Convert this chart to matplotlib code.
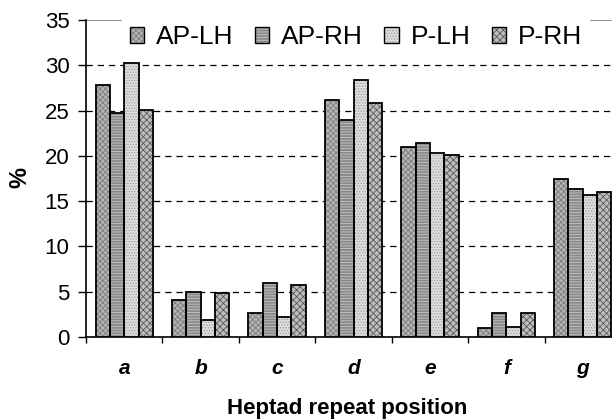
import matplotlib
matplotlib.use("Agg")
import matplotlib.pyplot as plt
import matplotlib.patches as mpatches
import numpy as np
from matplotlib.legend_handler import HandlerTuple

plt.rcParams['font.family'] = ['Liberation Sans', 'DejaVu Sans']
plt.rcParams['hatch.linewidth'] = 0.6

categories = ['a', 'b', 'c', 'd', 'e', 'f', 'g']
series_names = ['AP-LH', 'AP-RH', 'P-LH', 'P-RH']
ap_lh = [27.8, 4.1, 2.7, 26.2, 21.0, 0.95, 17.4]
ap_rh = [24.7, 5.0, 6.0, 24.0, 21.4, 2.65, 16.3]
p_lh = [30.2, 1.9, 2.2, 28.4, 20.3, 1.1, 15.7]
p_rh = [25.1, 4.9, 5.7, 25.8, 20.1, 2.65, 16.0]
values = [ap_lh, ap_rh, p_lh, p_rh]
y_ticks = [0, 5, 10, 15, 20, 25, 30, 35]

faces = ['#b4b4b4', '#8a8a8a', '#dedede', '#bdbdbd']
hatch_colors = ['#7c7c7c', '#c6c6c6', '#9a9a9a', '#5a5a5a']
hatches = ['xxxxxx', '------', '......', 'xxxxx']

fig = plt.figure(figsize=(6.12, 4.19), dpi=100)
ax = fig.add_axes([86/612, 82/419, 535/612, 317/419])

x = np.arange(len(categories))
width = 0.75 / 4
handles = []
for i, vals in enumerate(values):
    pos = x - 0.375 + width * (i + 0.5)
    ax.bar(pos, vals, width, facecolor=faces[i], edgecolor='none', zorder=3)
    ax.bar(pos, vals, width, facecolor='none', edgecolor=hatch_colors[i],
           hatch=hatches[i], linewidth=0, zorder=3.1)
    ax.bar(pos, vals, width, facecolor='none', edgecolor='black',
           linewidth=1.3, zorder=3.2)
    h1 = mpatches.Patch(facecolor=faces[i], edgecolor='none')
    h2 = mpatches.Patch(facecolor='none', edgecolor=hatch_colors[i], hatch=hatches[i], linewidth=0)
    h3 = mpatches.Patch(facecolor='none', edgecolor='black', linewidth=1.0)
    handles.append((h1, h2, h3))

ax.set_xlim(-0.5, len(categories) - 0.5)
ax.set_ylim(0, 35)
ax.set_yticks(y_ticks)
ax.set_yticklabels([str(t) for t in y_ticks], fontsize=16)
for t in y_ticks[1:-1]:
    ax.axhline(t, color='black', linestyle=(0, (5, 4)), linewidth=0.9, zorder=1)
ax.axhline(35, color='#808080', linewidth=1.2, zorder=1)

ax.set_xticks(x)
ax.set_xticklabels(categories, fontsize=15, fontweight='bold', fontstyle='italic')
ax.set_xticks(np.arange(len(categories) + 1) - 0.5, minor=True)
ax.tick_params(axis='x', which='major', length=0, pad=16)
ax.tick_params(axis='x', which='minor', length=4.5, width=1, direction='out')
ax.tick_params(axis='y', length=5.8, width=1, direction='out', pad=6)

for s in ['top', 'right']:
    ax.spines[s].set_visible(False)
ax.spines['left'].set_linewidth(1.2)
ax.spines['bottom'].set_linewidth(1.2)

fig.text(20/612, 1 - 178/419, '%', rotation=90, ha='center', va='center',
         fontsize=17, fontweight='bold')
fig.text(347/612, 5/419, 'Heptad repeat position', ha='center', va='baseline',
         fontsize=16, fontweight='bold')

leg = ax.legend(handles, series_names, loc='center', ncol=4,
                bbox_to_anchor=(356/612, 1 - 37/419), bbox_transform=fig.transFigure,
                fontsize=19, handlelength=0.55, handleheight=0.55, handletextpad=0.45,
                columnspacing=0.8, frameon=True, fancybox=False, borderpad=0.3,
                handler_map={tuple: HandlerTuple(ndivide=1, pad=0)})
leg.get_frame().set_facecolor('white')
leg.get_frame().set_edgecolor('none')
leg.get_frame().set_alpha(1)
leg.set_zorder(5)

fig.savefig('out.png', dpi=100)
